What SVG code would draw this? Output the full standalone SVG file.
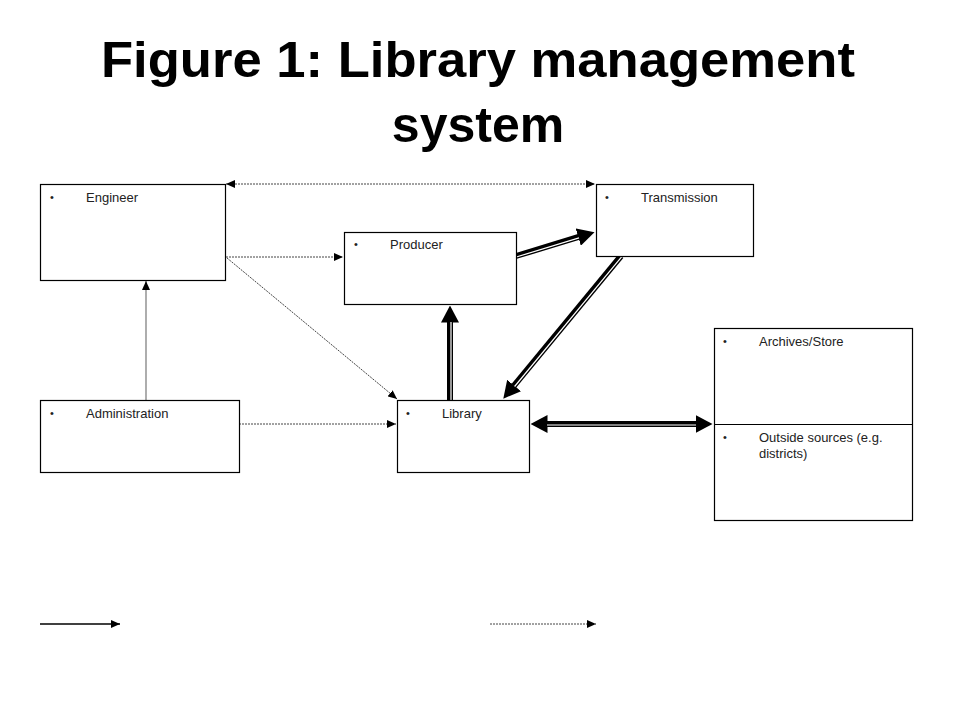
<svg xmlns="http://www.w3.org/2000/svg" width="960" height="720" viewBox="0 0 960 720">
<style>
.box{fill:#fff;stroke:#000;stroke-width:1.2}
.lbl{font-family:"Liberation Sans",Arial,sans-serif;font-size:13px;fill:#222}
.bul{font-family:"Liberation Sans",Arial,sans-serif;font-size:11px;fill:#222}
.title{font-family:"Liberation Sans",Arial,sans-serif;font-size:50px;font-weight:bold;fill:#000}
.dot{fill:none;stroke:#444;stroke-width:1;stroke-dasharray:2 1}
.solid{fill:none;stroke:#777;stroke-width:1.2}
.thick{fill:none;stroke:#000;stroke-width:6}
.inner{fill:none;stroke:#fff;stroke-width:1.2}
</style>
<defs>
<marker id="ht" viewBox="0 0 9 8" refX="9" refY="4" markerWidth="9" markerHeight="8" markerUnits="userSpaceOnUse" orient="auto-start-reverse">
<path d="M0,0 L9,4 L0,8 z" fill="#000"/>
</marker>
<marker id="hk" viewBox="0 0 17 18" refX="0.5" refY="9" markerWidth="17" markerHeight="18" markerUnits="userSpaceOnUse" orient="auto-start-reverse">
<path d="M0,0 L17,9 L0,18 z" fill="#000"/>
</marker>
</defs>
<rect width="960" height="720" fill="#fff"/>
<g id="title">
<text class="title" x="478" y="77" text-anchor="middle" textLength="754" lengthAdjust="spacingAndGlyphs">Figure 1: Library management</text>
<text class="title" x="478" y="142" text-anchor="middle">system</text>
</g>
<g id="connectors">
<line class="dot" x1="226" y1="184" x2="595" y2="184" marker-start="url(#ht)" marker-end="url(#ht)"/>
<line class="dot" x1="226" y1="257" x2="343" y2="257" marker-end="url(#ht)"/>
<line class="dot" x1="227" y1="258" x2="397" y2="399" marker-end="url(#ht)"/>
<line class="solid" x1="146" y1="400" x2="146" y2="281" marker-end="url(#ht)"/>
<line class="dot" x1="239" y1="424" x2="396" y2="424" marker-end="url(#ht)"/>
<line class="thick" x1="516" y1="256" x2="578.7" y2="236.95" marker-end="url(#hk)"/>
<line class="inner" x1="516.3" y1="257" x2="579" y2="237.9"/>
<line class="thick" x1="621" y1="256" x2="513.8" y2="385.9" marker-end="url(#hk)"/>
<line class="inner" x1="621.8" y1="256.6" x2="514.6" y2="386.5"/>
<line class="thick" x1="450" y1="400" x2="450" y2="322" marker-end="url(#hk)"/>
<line class="inner" x1="451" y1="400" x2="451" y2="322"/>
<line class="thick" x1="547" y1="424" x2="696" y2="424" marker-start="url(#hk)" marker-end="url(#hk)"/>
<line class="inner" x1="547" y1="425" x2="696" y2="425"/>
<line x1="40" y1="624" x2="120" y2="624" stroke="#000" stroke-width="1.5" marker-end="url(#ht)"/>
<line class="dot" x1="490" y1="624" x2="596" y2="624" marker-end="url(#ht)"/>
</g>
<g id="engineer">
<rect class="box" x="40.5" y="184.5" width="185" height="96"/>
<text class="bul" x="50" y="201">•</text>
<text class="lbl" x="86" y="202">Engineer</text>
</g>
<g id="producer">
<rect class="box" x="344.5" y="232.5" width="172" height="72"/>
<text class="bul" x="354" y="248">•</text>
<text class="lbl" x="390" y="249">Producer</text>
</g>
<g id="transmission">
<rect class="box" x="596.5" y="184.5" width="157" height="72"/>
<text class="bul" x="605" y="201">•</text>
<text class="lbl" x="641" y="202">Transmission</text>
</g>
<g id="administration">
<rect class="box" x="40.5" y="400.5" width="199" height="72"/>
<text class="bul" x="50" y="417">•</text>
<text class="lbl" x="86" y="418">Administration</text>
</g>
<g id="library">
<rect class="box" x="397.5" y="400.5" width="132" height="72"/>
<text class="bul" x="406" y="417">•</text>
<text class="lbl" x="442" y="418">Library</text>
</g>
<g id="archives">
<rect class="box" x="714.5" y="328.5" width="198" height="192"/>
<line x1="714.5" y1="424.5" x2="912.5" y2="424.5" stroke="#000" stroke-width="1.2"/>
<text class="bul" x="723" y="345">•</text>
<text class="lbl" x="759" y="346">Archives/Store</text>
<text class="bul" x="723" y="441">•</text>
<text class="lbl" x="759" y="442">Outside sources (e.g.</text>
<text class="lbl" x="759" y="458">districts)</text>
</g>
</svg>
